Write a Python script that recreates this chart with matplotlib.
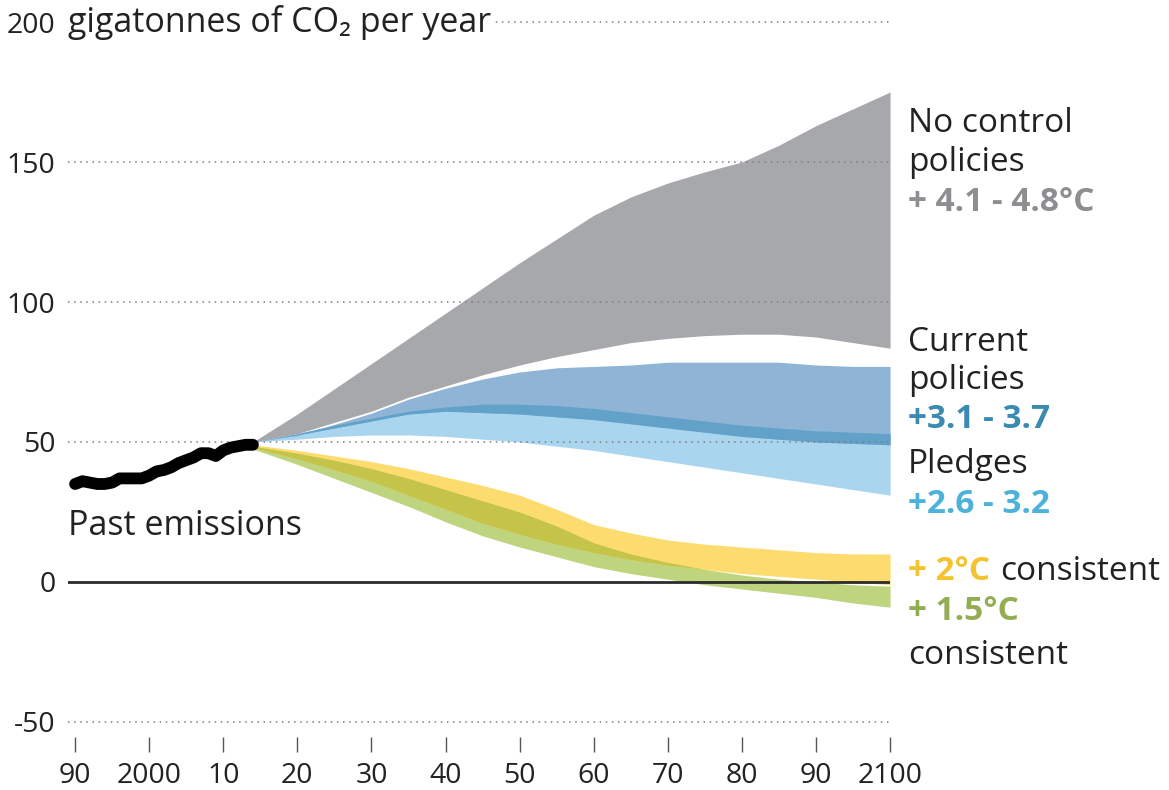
import matplotlib
matplotlib.use("Agg")
import matplotlib.pyplot as plt

plt.rcParams['font.family'] = ['Open Sans', 'DejaVu Sans']

# past emissions (black line)
past_years = [1990, 1991, 1992, 1993, 1994, 1995, 1996, 1997, 1998, 1999, 2000, 2001, 2002,
              2003, 2004, 2005, 2006, 2007, 2008, 2009, 2010, 2011, 2012, 2013, 2014]
past_values = [35, 36, 35.5, 35, 35, 35.5, 37, 37, 37, 37, 38, 39.5, 40,
               41, 42.5, 43.5, 44.5, 46, 46, 45, 47, 48, 48.5, 49, 49]

# scenario ranges
years = [2014, 2020, 2025, 2030, 2035, 2040, 2045, 2050, 2055, 2060,
         2065, 2070, 2075, 2080, 2085, 2090, 2095, 2100]
nocontrol_high = [50, 60, 69, 78, 87, 96, 105, 114, 122.5, 131, 137.5, 142.5, 146.5, 150, 156, 163, 169, 175]
nocontrol_low = [50, 53, 57, 61, 66, 70, 74, 77.5, 80.5, 83, 85.5, 87, 88, 88.5, 88.5, 87.5, 85.5, 83.5]
current_high = [50, 52.3, 56.3, 60.3, 65.3, 69.2, 72.5, 75, 76.5, 77, 77.5, 78.5, 78.5, 78.5, 78.5, 77.5, 77, 77]
current_low = [50, 52.5, 55, 57.5, 60, 61, 60.5, 60, 59, 58, 56.5, 55, 53.5, 52, 51, 50, 49.5, 49]
pledges_high = [50, 53, 56, 58.5, 61, 62.5, 63.5, 63.5, 63, 62, 60.5, 59, 57.5, 56, 55, 54, 53.5, 53]
pledges_low = [50, 51, 52, 52.5, 52.5, 52, 51, 50, 48.5, 47, 45, 43, 41, 39, 37, 35, 33, 31]
two_high = [49, 47, 45, 43, 40.5, 37.5, 34.5, 31, 26, 20.5, 17.5, 15, 13.5, 12.5, 11.5, 10.5, 10, 10]
two_low = [48, 44, 40, 36, 31, 26, 21, 17, 13.5, 10.5, 8, 6, 4.5, 3, 2, 1, 0, -1]
onefive_high = [48.5, 46, 43.5, 40.5, 37, 33, 29, 25, 20, 14, 10, 7, 4.5, 2.5, 1, 0, -1, -1.5]
onefive_low = [47.5, 42, 37, 32, 27, 21.5, 16.5, 12.5, 9, 5.5, 3, 1, -1, -2.5, -4, -5.5, -7.5, -9]

ytick_values = [-50, 0, 50, 100, 150, 200]
xtick_values = [1990, 2000, 2010, 2020, 2030, 2040, 2050, 2060, 2070, 2080, 2090, 2100]
xtick_labels = ["90", "2000", "10", "20", "30", "40", "50", "60", "70", "80", "90", "2100"]

fig = plt.figure(figsize=(11.69, 7.9), dpi=100)
ax = fig.add_axes([0.0582, 0.0666, 0.7032, 0.9073])
ax.set_xlim(1989.05, 2100)
ax.set_ylim(-55.5, 200.5)

ax.fill_between(years, nocontrol_low, nocontrol_high, color="#a7a8ab", lw=0, zorder=1)
ax.fill_between(years, pledges_low, pledges_high, color="#a9d6ee", lw=0, zorder=2)
ax.fill_between(years, current_low, current_high, color="#8fb4d6", lw=0, zorder=3)
ax.fill_between(years, current_low, pledges_high, where=[p > c for p, c in zip(pledges_high, current_low)],
                interpolate=True, color="#62a2c9", lw=0, zorder=4)
ax.fill_between(years, onefive_low, onefive_high, color="#bfd47e", lw=0, zorder=2)
ax.fill_between(years, two_low, two_high, color="#fcdc6e", lw=0, zorder=3)
ax.fill_between(years, two_low, onefive_high, where=[g > y for g, y in zip(onefive_high, two_low)],
                interpolate=True, color="#c4c34a", lw=0, zorder=4)

ax.plot(past_years, past_values, color="black", lw=8.5, solid_capstyle="round",
        solid_joinstyle="round", zorder=6)

for v in ytick_values:
    if v == 0:
        ax.axhline(v, color="#2b2b2b", lw=2, zorder=5)
    else:
        ax.axhline(v, color="#7d7d7d", lw=1.1, ls=(0, (1, 3)), zorder=5)

for s in ax.spines.values():
    s.set_visible(False)
ax.set_yticks(ytick_values)
ax.set_yticklabels([str(v) for v in ytick_values])
ax.tick_params(axis="y", length=0, pad=9, labelsize=20.5, labelcolor="#222222")
ax.set_xticks(xtick_values)
ax.set_xticklabels(xtick_labels)
ax.tick_params(axis="x", length=11, width=1, color="#555555", direction="out",
               pad=7, labelsize=20.5, labelcolor="#222222")

ax.text(1989.05, 200, "gigatonnes of CO\u2082 per year", fontsize=24.5, va="center", ha="left",
        color="#222222", zorder=7,
        bbox=dict(facecolor="white", edgecolor="none", pad=2))
ax.text(1989, 20, "Past emissions", fontsize=24.5, va="center", ha="left", color="#222222", zorder=7)

lx = 2102.4
fs = 24
txt = dict(fontsize=fs, va="center", ha="left", color="#222222")
ax.text(lx, 163.6, "No control", **txt)
ax.text(lx, 150, "policies", **txt)
ax.text(lx, 135.7, "+ 4.1 - 4.8°C", fontsize=fs, va="center", ha="left", color="#8c8e91", fontweight="bold")
ax.text(lx, 85.7, "Current", **txt)
ax.text(lx, 72.1, "policies", **txt)
ax.text(lx, 57.9, "+3.1 - 3.7", fontsize=fs, va="center", ha="left", color="#3b8ab2", fontweight="bold")
ax.text(lx, 41.8, "Pledges", **txt)
ax.text(lx, 27.5, "+2.6 - 3.2", fontsize=fs, va="center", ha="left", color="#4db2da", fontweight="bold")
t2 = ax.text(lx, 3.9, "+ 2°C", fontsize=fs, va="center", ha="left", color="#f4c430", fontweight="bold")
ax.annotate("consistent", xy=(1, 0.5), xycoords=t2, xytext=(7, 0), textcoords="offset points",
            fontsize=fs, va="center", ha="left", color="#222222")
ax.text(lx, -10.7, "+ 1.5°C", fontsize=fs, va="center", ha="left", color="#92ad52", fontweight="bold")
ax.text(lx, -26.1, "consistent", **txt)

fig.savefig("out.png", dpi=100)
